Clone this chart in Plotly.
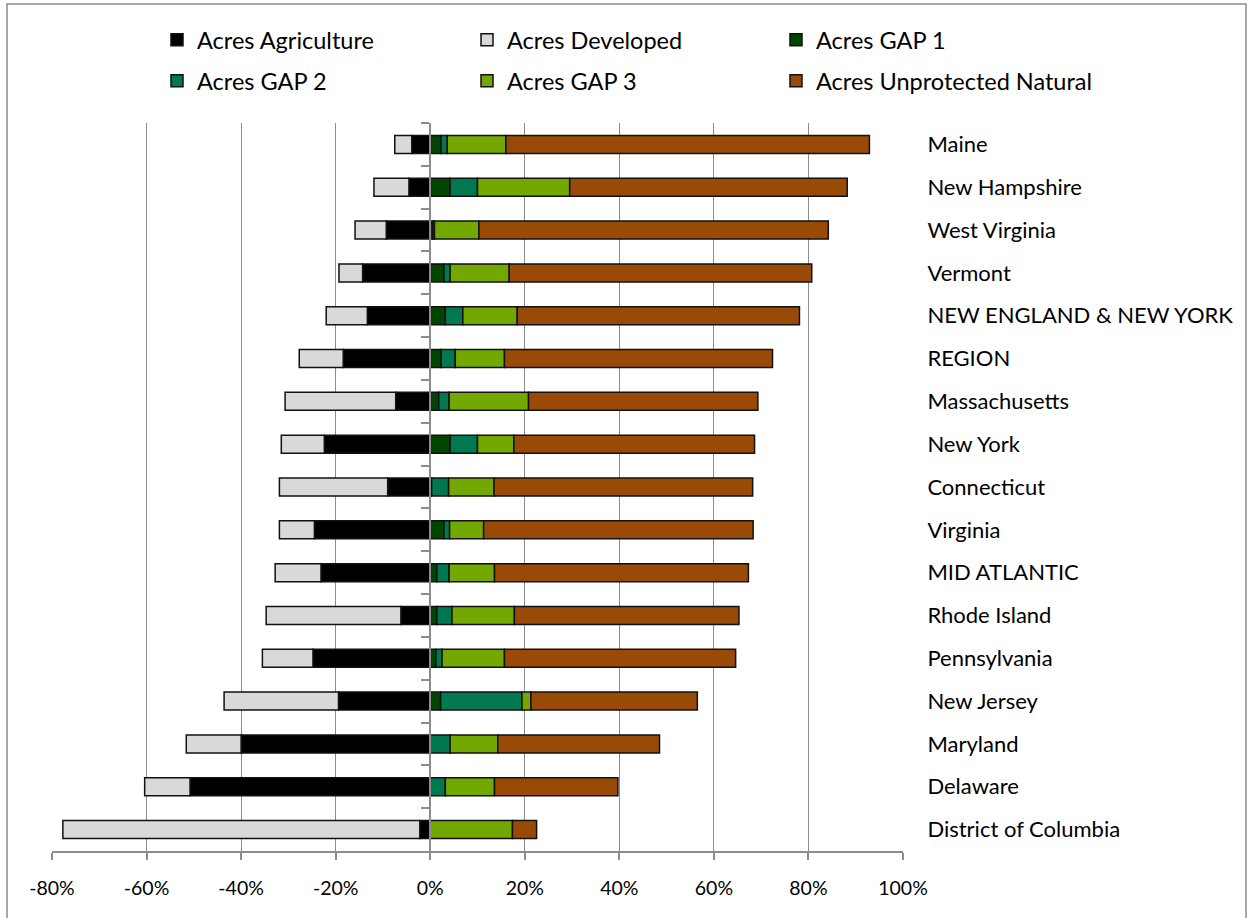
import plotly.graph_objects as go

# Categories, top to bottom
states = ["Maine", "New Hampshire", "West Virginia", "Vermont", "NEW ENGLAND & NEW YORK",
          "REGION", "Massachusetts", "New York", "Connecticut", "Virginia", "MID ATLANTIC",
          "Rhode Island", "Pennsylvania", "New Jersey", "Maryland", "Delaware",
          "District of Columbia"]

# Percent of acres
agriculture = [3.9, 4.5, 9.3, 14.3, 13.3, 18.4, 7.3, 22.4, 9.0, 24.5, 23.1, 6.2, 24.8, 19.4, 40.0, 50.8, 2.2]
developed = [3.6, 7.4, 6.6, 5.0, 8.7, 9.3, 23.4, 9.1, 22.9, 7.4, 9.7, 28.5, 10.7, 24.2, 11.6, 9.6, 75.5]
gap1 = [2.3, 4.2, 0.5, 2.9, 3.2, 2.3, 1.8, 4.2, 0.3, 2.9, 1.4, 1.4, 1.2, 2.2, 0.0, 0.0, 0.0]
gap2 = [1.3, 5.8, 0.4, 1.3, 3.7, 3.0, 2.2, 5.8, 3.6, 1.2, 2.6, 3.2, 1.3, 17.2, 4.2, 3.2, 0.0]
gap3 = [12.4, 19.5, 9.4, 12.5, 11.5, 10.4, 16.8, 7.7, 9.6, 7.2, 9.6, 13.2, 13.2, 1.9, 10.1, 10.4, 17.4]
unprotected = [76.9, 58.7, 73.9, 64.0, 59.7, 56.7, 48.5, 50.9, 54.7, 57.0, 53.7, 47.5, 48.9, 35.2, 34.2, 26.1, 5.1]

x_ticks = [-80, -60, -40, -20, 0, 20, 40, 60, 80, 100]
x_tick_labels = ["-80%", "-60%", "-40%", "-20%", "0%", "20%", "40%", "60%", "80%", "100%"]

series_names = ["Acres Agriculture", "Acres Developed", "Acres GAP 1",
                "Acres GAP 2", "Acres GAP 3", "Acres Unprotected Natural"]
series_values = [[-v for v in agriculture], [-v for v in developed], gap1, gap2, gap3, unprotected]
series_colors = ["#000000", "#D9D9D9", "#004600", "#007850", "#72A800", "#994A07"]

FONT = "Lato"
GRID = "#8C8C8C"
W, H = 1248, 918
L, R, T, B = 52, 903, 123, 851

# legend slots (pixel position of each legend entry: 3 columns x 2 rows)
legend_cols = [157, 467, 776]
legend_rows = [40, 81]

fig = go.Figure()
layout_legends = {}
for i, (name, vals, color) in enumerate(zip(series_names, series_values, series_colors)):
    key = "legend" if i == 0 else f"legend{i + 1}"
    fig.add_trace(go.Bar(
        name=name, x=vals, y=states, orientation="h",
        marker=dict(color=color, line=dict(color="#111111", width=1.5)),
        legend=key,
    ))
    layout_legends[key] = dict(
        orientation="h", xref="container", yref="container",
        x=legend_cols[i % 3] / W, y=1 - legend_rows[i // 3] / H,
        xanchor="left", yanchor="middle",
        font=dict(size=23.5, family=FONT), bgcolor="rgba(0,0,0,0)")

# invisible trace carrying the zero axis
fig.add_trace(go.Scatter(x=[0] * len(states), y=states, yaxis="y2", mode="markers",
                         marker=dict(opacity=0), showlegend=False, hoverinfo="skip"))

fig.update_layout(
    width=W, height=H,
    margin=dict(l=L, r=W - R, t=T, b=H - B, pad=0, autoexpand=False),
    paper_bgcolor="white", plot_bgcolor="white",
    barmode="relative", bargap=0.58,
    font=dict(family=FONT, color="black"),
    xaxis=dict(range=[-80, 100], tickvals=x_ticks, ticktext=x_tick_labels,
               showgrid=True, gridcolor=GRID, gridwidth=1, zeroline=False,
               showline=True, linecolor=GRID, linewidth=1.5,
               ticks="outside", ticklen=7, tickcolor=GRID, tickwidth=1.5,
               ticklabelstandoff=12,
               tickfont=dict(size=19.5, family=FONT), fixedrange=True),
    yaxis=dict(type="category", categoryorder="array", categoryarray=states,
               range=[len(states) - 0.5, -0.5], side="right", showgrid=False,
               zeroline=False, showline=False, ticks="outside", ticklen=19,
               tickcolor="rgba(0,0,0,0)", tickfont=dict(size=22, family=FONT)),
    yaxis2=dict(type="category", categoryorder="array", categoryarray=states,
                range=[len(states) - 0.5, -0.5], overlaying="y", anchor="free",
                position=80 / 180, side="left", showgrid=False, zeroline=False,
                showline=True, linecolor=GRID, linewidth=2,
                ticks="outside", tickson="boundaries", ticklen=8, tickcolor=GRID,
                tickwidth=1.5, showticklabels=False),
    showlegend=True,
    **layout_legends,
)

# chart border
pw, ph = R - L, B - T
fig.add_shape(type="rect", xref="paper", yref="paper",
              x0=(7 - L) / pw, x1=(1246 - L) / pw,
              y0=(B - 925) / ph, y1=(B - 4) / ph,
              line=dict(color="#8C8C8C", width=1.5), fillcolor="rgba(0,0,0,0)", layer="below")

fig.write_html("out.html", config={"displayModeBar": False},
               post_script="document.body.style.margin='0';document.body.style.overflow='hidden';")
